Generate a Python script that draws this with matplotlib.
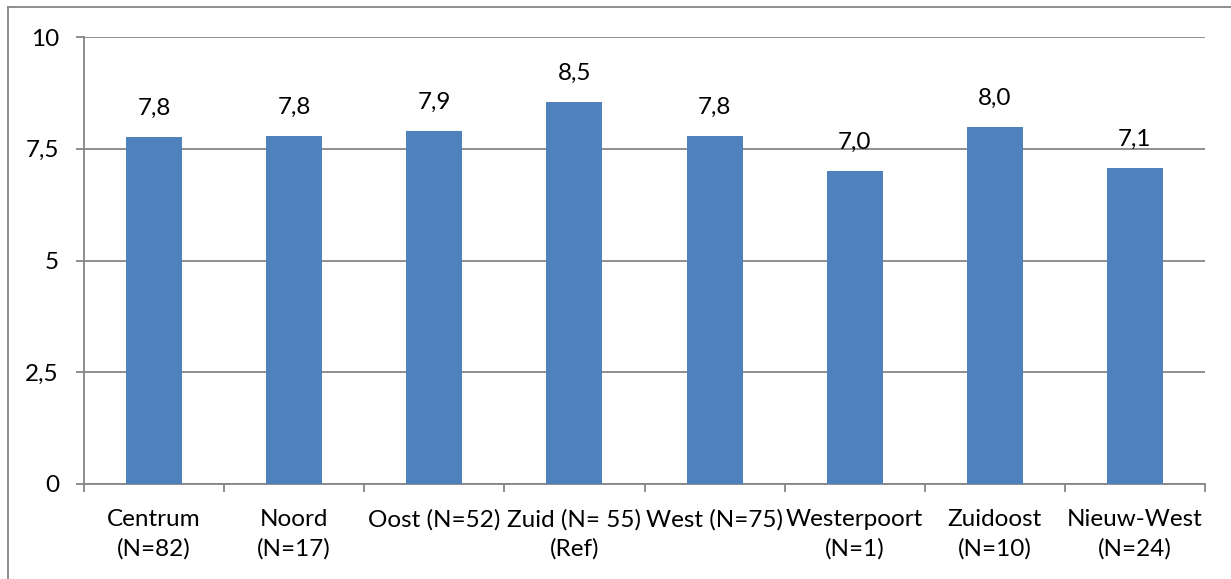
import matplotlib.pyplot as plt
from matplotlib.lines import Line2D
import numpy as np

plt.rcParams['font.family'] = ['Lato', 'DejaVu Sans']

categories = ['Centrum\n(N=82)', 'Noord\n(N=17)', 'Oost (N=52)', 'Zuid (N= 55)\n(Ref)',
              'West (N=75)', 'Westerpoort\n(N=1)', 'Zuidoost\n(N=10)', 'Nieuw-West\n(N=24)']
scores = [7.77, 7.79, 7.90, 8.54, 7.79, 7.01, 7.99, 7.08]
score_labels = ['7,8', '7,8', '7,9', '8,5', '7,8', '7,0', '8,0', '7,1']
yticks = [0, 2.5, 5, 7.5, 10]
ytick_labels = ['0', '2,5', '5', '7,5', '10']

grey = '#868686'
bar_color = '#4F81BD'

fig = plt.figure(figsize=(12.31, 5.79), dpi=100)
ax = fig.add_axes([84 / 1231, 1 - 484 / 579, 1121 / 1231, 447 / 579])

x = np.arange(len(categories))
bars = ax.bar(x, scores, width=0.4, color=bar_color, zorder=3)
ax.bar_label(bars, labels=score_labels, padding=13, fontsize=17.5)

ax.set_xlim(-0.5, len(categories) - 0.5)
ax.set_ylim(0, 10)

ax.set_yticks(yticks)
ax.set_yticklabels(ytick_labels, fontsize=17.5)
ax.yaxis.grid(True, color=grey, linewidth=1.3, zorder=0)
ax.tick_params(axis='y', length=6, width=1.3, color=grey, pad=12)

ax.set_xticks(np.arange(len(categories) + 1) - 0.5)
ax.set_xticklabels([])
ax.set_xticks(x, minor=True)
ax.set_xticklabels(categories, minor=True, fontsize=17.5, linespacing=1.45)
ax.tick_params(axis='x', which='major', length=6, width=1.3, color=grey)
ax.tick_params(axis='x', which='minor', length=0, pad=18)

for side in ['top', 'right']:
    ax.spines[side].set_visible(False)
for side in ['left', 'bottom']:
    ax.spines[side].set_color(grey)
    ax.spines[side].set_linewidth(1.3)

# outer chart frame (only top and left edges are visible in the crop)
fig.add_artist(Line2D([8 / 1231, 1], [1 - 7 / 579, 1 - 7 / 579], color=grey, linewidth=1.3))
fig.add_artist(Line2D([8 / 1231, 8 / 1231], [0, 1 - 7 / 579], color=grey, linewidth=1.3))

fig.savefig('out.png', dpi=100)
